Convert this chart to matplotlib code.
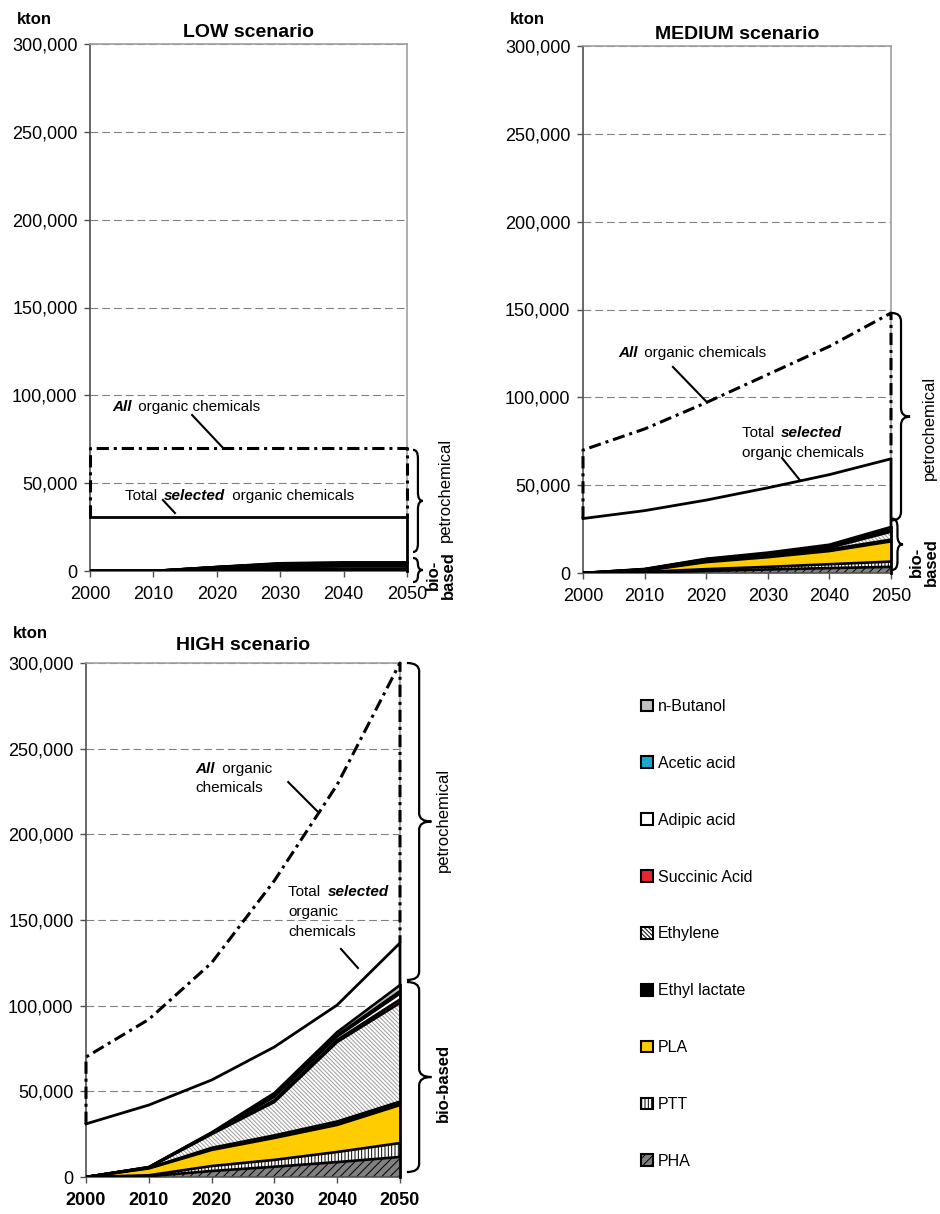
import matplotlib
matplotlib.use('Agg')
import matplotlib.pyplot as plt
from matplotlib.patches import Patch, PathPatch
from matplotlib.path import Path
from matplotlib.transforms import blended_transform_factory
from matplotlib.ticker import FuncFormatter

plt.rcParams['font.family'] = ['Liberation Sans', 'DejaVu Sans']
plt.rcParams['hatch.linewidth'] = 0.7

years = [2000, 2010, 2020, 2030, 2040, 2050]

# stacking order, bottom to top
products = ['PHA', 'PTT', 'PLA', 'Ethyl lactate', 'Ethylene',
            'Succinic Acid', 'Adipic acid', 'Acetic acid', 'n-Butanol']

# LOW scenario (kton)
low_all = [70000, 70000, 70000, 70000, 70000, 70000]
low_selected = [31000, 31000, 31000, 31000, 31000, 31000]
low_pha = [0, 0, 300, 500, 600, 600]
low_ptt = [0, 0, 300, 500, 600, 600]
low_pla = [0, 0, 600, 1300, 1400, 1400]
low_ethyl_lactate = [0, 0, 300, 500, 500, 500]
low_ethylene = [0, 0, 500, 900, 1000, 1000]
low_succinic = [0, 0, 100, 200, 200, 200]
low_adipic = [0, 0, 100, 200, 200, 200]
low_acetic = [0, 0, 0, 100, 100, 100]
low_butanol = [0, 0, 100, 200, 300, 300]

# MEDIUM scenario (kton)
med_all = [70000, 82000, 97000, 113000, 129000, 148000]
med_selected = [31000, 35500, 41500, 48500, 56000, 65000]
med_pha = [0, 300, 1200, 2000, 2800, 3500]
med_ptt = [0, 300, 1000, 1500, 2200, 3000]
med_pla = [0, 700, 4000, 5500, 7500, 11500]
med_ethyl_lactate = [0, 300, 500, 700, 900, 1000]
med_ethylene = [0, 300, 600, 700, 1000, 4500]
med_succinic = [0, 100, 200, 300, 400, 600]
med_adipic = [0, 100, 200, 300, 400, 800]
med_acetic = [0, 0, 100, 100, 200, 300]
med_butanol = [0, 200, 300, 500, 700, 1000]

# HIGH scenario (kton)
high_all = [70000, 92000, 125000, 173000, 229000, 300000]
high_selected = [31000, 42000, 56600, 75900, 100400, 136600]
high_pha = [0, 500, 3500, 6000, 8700, 11700]
high_ptt = [0, 500, 2900, 4000, 5900, 8100]
high_pla = [0, 4000, 9400, 12800, 15800, 22200]
high_ethyl_lactate = [0, 300, 1200, 1500, 2000, 2000]
high_ethylene = [0, 200, 8000, 19500, 46400, 57600]
high_succinic = [0, 50, 200, 1000, 1200, 2000]
high_adipic = [0, 100, 400, 2000, 2000, 3500]
high_acetic = [0, 50, 100, 700, 800, 1400]
high_butanol = [0, 100, 300, 1500, 1800, 3500]

# facecolor, hatch, hatch colour
styles = {
    'PHA': ('#808080', '////', 'black'),
    'PTT': ('white', '|||||', 'black'),
    'PLA': ('#FFCC00', None, 'black'),
    'Ethyl lactate': ('black', None, 'black'),
    'Ethylene': ('white', '\\\\\\\\\\\\\\\\', '#9A9A9A'),
    'Succinic Acid': ('#E8262B', None, 'black'),
    'Adipic acid': ('white', None, 'black'),
    'Acetic acid': ('#19A9CF', None, 'black'),
    'n-Butanol': ('#C0C0C0', None, 'black'),
}

W, H = 940, 1214
fig = plt.figure(figsize=(W / 100, H / 100), dpi=100)


def fx(px):
    return px / W


def fy(py):
    return 1 - py / H


def brace(ax, x0, x1, y0, y1):
    # curly brace opening to the left; x in axes fraction, y in data
    tr = blended_transform_factory(ax.transAxes, ax.transData)
    xm = (x0 + x1) / 2
    mid = (y0 + y1) / 2
    r = min(4800, (y1 - y0) / 4)
    verts = [(x0, y1), (xm, y1), (xm, y1 - r), (xm, mid + r),
             (xm, mid), (x1, mid), (xm, mid), (xm, mid - r),
             (xm, y0 + r), (xm, y0), (x0, y0)]
    codes = [Path.MOVETO, Path.CURVE3, Path.CURVE3, Path.LINETO,
             Path.CURVE3, Path.CURVE3, Path.CURVE3, Path.CURVE3,
             Path.LINETO, Path.CURVE3, Path.CURVE3]
    ax.add_patch(PathPatch(Path(verts, codes), transform=tr, fill=False,
                           lw=1.6, color='black', clip_on=False))


def label(ax, x, y, parts, size=11):
    t = ax.text(x, y, parts[0][0], fontsize=size, va='center', ha='left', **parts[0][1])
    for txt, kw in parts[1:]:
        t = ax.annotate(txt, xy=(1, 0), xycoords=t, xytext=(2, 0),
                        textcoords='offset points', va='bottom', ha='left',
                        fontsize=size, **kw)
    return t


BI = dict(fontweight='bold', fontstyle='italic')
N = dict()


def draw_panel(rect, all_org, selected, layers, title, title_pad, bold_x=False):
    ax = fig.add_axes(rect)
    base = [0] * len(years)
    for name, vals in zip(products, layers):
        top = [b + v for b, v in zip(base, vals)]
        fc, hatch, hc = styles[name]
        ax.fill_between(years, base, top, facecolor=fc, hatch=hatch,
                        edgecolor=hc, linewidth=0, zorder=2)
        ax.plot(years, top, color='black', lw=1.9, zorder=3)
        base = top
    ax.plot([2050, 2050], [0, base[-1]], color='black', lw=2, zorder=4, clip_on=False)
    ax.plot(years + [2050], selected + [base[-1]], color='black', lw=2,
            zorder=4, clip_on=False)
    ax.plot([2000] + years + [2050], [selected[0]] + all_org + [selected[-1]],
            color='black', lw=2.2, linestyle=(0, (4, 1.6, 1, 1.6)),
            zorder=4, clip_on=False)

    ax.set_xlim(2000, 2050)
    ax.set_ylim(0, 300000)
    ax.set_xticks(years)
    ax.set_yticks(range(0, 300001, 50000))
    ax.yaxis.set_major_formatter(FuncFormatter(lambda v, p: f'{int(v):,}'))
    ax.set_axisbelow(True)
    ax.yaxis.grid(True, color='#808080', lw=0.8, linestyle=(0, (7, 3.6)))
    for s in ['top', 'right']:
        ax.spines[s].set_color('#A0A0A0')
        ax.spines[s].set_linewidth(1.2)
    for s in ['left', 'bottom']:
        ax.spines[s].set_color('#505050')
        ax.spines[s].set_linewidth(1.2)
    ax.tick_params(direction='out', length=4, width=1, color='#505050',
                   labelsize=13)
    ax.tick_params(axis='x', pad=7)
    ax.tick_params(axis='y', pad=5)
    if bold_x:
        for t in ax.get_xticklabels():
            t.set_fontweight('bold')
    ax.set_title(title, fontsize=14, fontweight='bold', pad=title_pad)
    return ax


low_layers = [low_pha, low_ptt, low_pla, low_ethyl_lactate, low_ethylene,
              low_succinic, low_adipic, low_acetic, low_butanol]
med_layers = [med_pha, med_ptt, med_pla, med_ethyl_lactate, med_ethylene,
              med_succinic, med_adipic, med_acetic, med_butanol]
high_layers = [high_pha, high_ptt, high_pla, high_ethyl_lactate, high_ethylene,
               high_succinic, high_adipic, high_acetic, high_butanol]

ax1 = draw_panel([fx(90), fy(571), fx(407) - fx(90), fy(44) - fy(571)],
                 low_all, low_selected, low_layers, 'LOW scenario', 5)
ax2 = draw_panel([fx(583), fy(573), fx(891) - fx(583), fy(46) - fy(573)],
                 med_all, med_selected, med_layers, 'MEDIUM scenario', 5)
ax3 = draw_panel([fx(86), fy(1177), fx(400) - fx(86), fy(663) - fy(1177)],
                 high_all, high_selected, high_layers, 'HIGH scenario', 9, bold_x=True)

# kton labels
fig.text(fx(34), fy(20), 'kton', fontsize=12, fontweight='bold', ha='center', va='center')
fig.text(fx(527), fy(20), 'kton', fontsize=12, fontweight='bold', ha='center', va='center')
fig.text(fx(30), fy(634), 'kton', fontsize=12, fontweight='bold', ha='center', va='center')

# annotations LOW
label(ax1, 2003.5, 93400, [('All', BI), (' organic chemicals', N)])
ax1.plot([2016.1, 2021.0], [88800, 70000], color='black', lw=1.5, zorder=5)
label(ax1, 2005.5, 42700, [('Total ', N), ('selected', BI), (' organic chemicals', N)])
ax1.plot([2011.5, 2013.4], [40400, 33000], color='black', lw=1.5, zorder=5)

# annotations MEDIUM
label(ax2, 2005.7, 125200, [('All', BI), (' organic chemicals', N)])
ax2.plot([2014.6, 2020.1], [117300, 97300], color='black', lw=1.5, zorder=5)
label(ax2, 2025.8, 79700, [('Total ', N), ('selected', BI)])
label(ax2, 2025.8, 68300, [('organic chemicals', N)])
ax2.plot([2032.3, 2035.2], [65500, 52900], color='black', lw=1.5, zorder=5)

# annotations HIGH
label(ax3, 2017.4, 238100, [('All', BI), (' organic', N)])
label(ax3, 2017.4, 227000, [('chemicals', N)])
ax3.plot([2032.2, 2037.1], [230500, 212500], color='black', lw=1.5, zorder=5)
label(ax3, 2032.2, 166300, [('Total ', N), ('selected', BI)])
label(ax3, 2032.2, 154700, [('organic', N)])
label(ax3, 2032.2, 143000, [('chemicals', N)])
ax3.plot([2040.6, 2043.3], [133100, 122000], color='black', lw=1.5, zorder=5)

# braces
brace(ax1, 1.019, 1.05, 10800, 69000)
brace(ax1, 1.019, 1.05, -6300, 7400)
brace(ax2, 1.003, 1.062, 30000, 148000)
brace(ax2, 1.003, 1.039, 1700, 31000)
brace(ax3, 1.022, 1.10, 115000, 300000)
brace(ax3, 1.022, 1.10, 2900, 113800)

fig.text(fx(445), fy(490), 'petrochemical', rotation=90, ha='center', va='center', fontsize=12)
fig.text(fx(441), fy(575), 'bio-\nbased', rotation=90, ha='center', va='center',
         fontsize=12, fontweight='bold', multialignment='center', linespacing=1.0)
fig.text(fx(929), fy(428), 'petrochemical', rotation=90, ha='center', va='center', fontsize=12)
fig.text(fx(924), fy(562), 'bio-\nbased', rotation=90, ha='center', va='center',
         fontsize=12, fontweight='bold', multialignment='center', linespacing=1.0)
fig.text(fx(443), fy(820), 'petrochemical', rotation=90, ha='center', va='center', fontsize=12)
fig.text(fx(443), fy(1083), 'bio-based', rotation=90, ha='center', va='center',
         fontsize=12, fontweight='bold')

# legend
handles = []
for name in reversed(products):
    fc, hatch, hc = styles[name]
    handles.append(Patch(facecolor=fc, hatch=hatch, edgecolor='black', linewidth=1.5, label=name))
fig.legend(handles=handles, loc='upper left', bbox_to_anchor=(fx(641), fy(699)),
           frameon=False, fontsize=11.5, labelspacing=2.62, handlelength=0.75,
           handleheight=0.75, handletextpad=0.3, borderpad=0, borderaxespad=0)

fig.savefig('out.png', dpi=100)
